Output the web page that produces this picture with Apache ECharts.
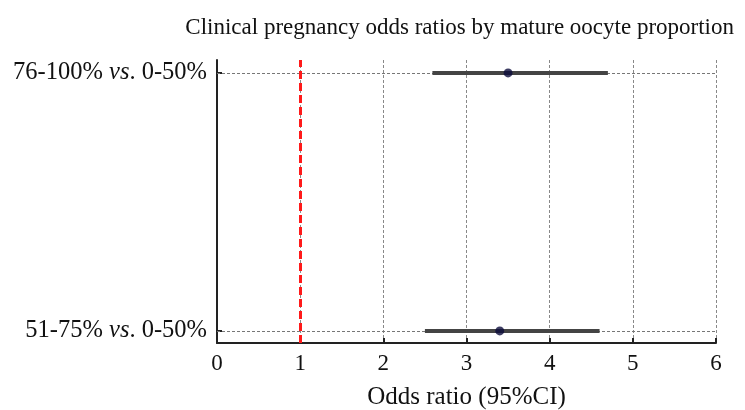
<!DOCTYPE html>
<html><head><meta charset="utf-8">
<script src="https://cdn.jsdelivr.net/npm/echarts@6/dist/echarts.min.js"></script>
<style>html,body{margin:0;padding:0;background:#fff}#c{width:745px;height:410px}</style>
</head><body><div id="c"></div>
<script>
var titleText = 'Clinical pregnancy odds ratios by mature oocyte proportion';
var categories = ['51-75% vs. 0-50%', '76-100% vs. 0-50%'];
var oddsRatio = [3.4, 3.5];
var lower = [2.5, 2.59];
var upper = [4.6, 4.7];
var xTicks = [0, 1, 2, 3, 4, 5, 6];
var refLine = 1;

var font = 'Liberation Serif';
var chart = echarts.init(document.getElementById('c'));
var series = [];
categories.forEach(function (c, i) {
  series.push({
    type: 'line', data: [[lower[i], i], [upper[i], i]], symbol: 'none',
    lineStyle: { color: '#444', width: 4 }, z: 3, silent: true
  });
});
series.push({
  type: 'scatter', data: oddsRatio.map(function (v, i) { return [v, i]; }),
  symbolSize: 9, itemStyle: { color: '#0b0b3b' }, z: 5,
  markLine: {
    silent: true, symbol: 'none', label: { show: false },
    data: categories.map(function (c, i) {
      return { yAxis: i, lineStyle: { color: '#777', type: [3, 2], width: 1 } };
    }).concat([{ xAxis: refLine, lineStyle: { color: '#ff1a1a', type: [8, 4], width: 3 } }]),
    z: 2
  }
});
chart.setOption({
  animation: false,
  title: {
    text: titleText, right: 6, top: 11,
    textStyle: { fontFamily: font, fontSize: 23, fontWeight: 'normal', color: '#111' }
  },
  grid: { left: 217, right: 29, top: 60, bottom: 67, outerBoundsMode: 'none', containLabel: false },
  xAxis: {
    type: 'value', min: xTicks[0], max: xTicks[xTicks.length - 1], interval: 1,
    name: 'Odds ratio (95%CI)', nameLocation: 'middle', nameGap: 42,
    nameTextStyle: { fontFamily: font, fontSize: 25, color: '#111' },
    axisLine: { show: true, onZero: false, lineStyle: { color: '#222', width: 2 } },
    axisTick: { show: true, inside: true, length: 5, lineStyle: { color: '#222', width: 2 } },
    axisLabel: { fontFamily: font, fontSize: 23, color: '#111', margin: 9 },
    splitLine: { show: true, lineStyle: { color: '#888', type: [3, 2], width: 1 } }
  },
  yAxis: {
    type: 'value', min: -0.047, max: 1.05,
    axisLine: { show: true, onZero: false, lineStyle: { color: '#222', width: 2 } },
    axisTick: { show: true, inside: true, length: 5, customValues: [0, 1], lineStyle: { color: '#222', width: 2 } },
    axisLabel: {
      customValues: [0, 1], margin: 10,
      formatter: function (v) {
        var s = categories[Math.round(v)] || '';
        var p = s.split(' vs. ');
        return '{n|' + p[0] + ' }{i|vs}{n|. ' + p[1] + '}';
      },
      rich: {
        n: { fontFamily: font, fontSize: 24.5, color: '#111' },
        i: { fontFamily: font, fontSize: 24.5, fontStyle: 'italic', color: '#111' }
      }
    },
    splitLine: { show: false }
  },
  series: series
});
</script></body></html>
